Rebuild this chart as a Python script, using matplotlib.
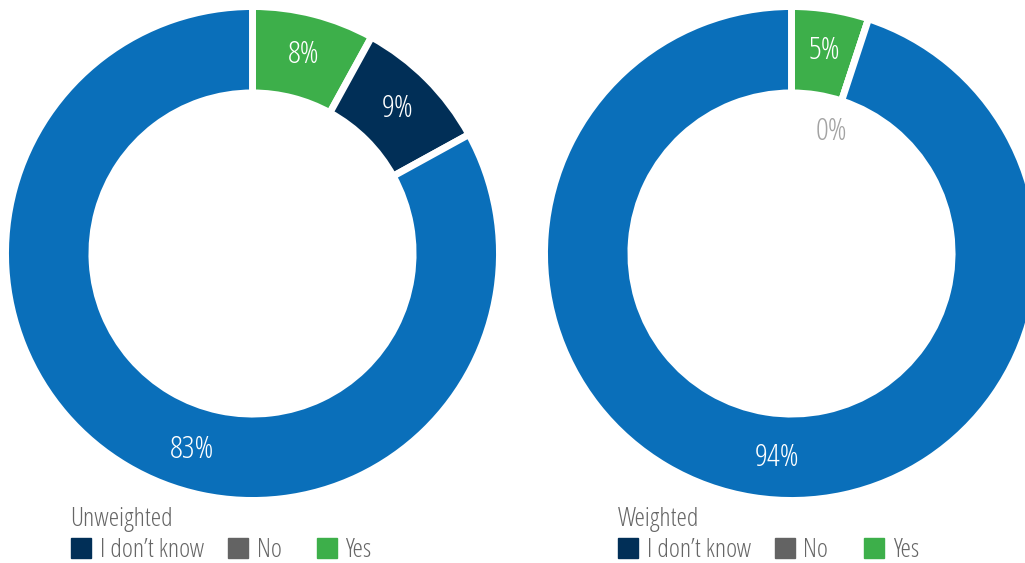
import numpy as np
import matplotlib.pyplot as plt
from matplotlib.patches import Rectangle

# data (order clockwise from 12 o'clock)
segmentos = ["Yes", "I don’t know", "No"]
no_ponderado = [8, 9, 83]
ponderado = [5, 0, 94]
titulos = ["Unweighted", "Weighted"]

legend_labels = ["I don’t know", "No", "Yes"]
legend_colors = ["#012f57", "#636363", "#3daf4a"]
colores_anillo = ["#3daf4a", "#012f57", "#0a6fba"]

FUENTE = dict(family="Open Sans", stretch="condensed", weight="light")
W, H = 1025, 563

fig = plt.figure(figsize=(W / 100, H / 100), dpi=100)

def px_axes(cx, cy, r):
    # axes box in figure fraction from pixel center/radius (y from top)
    return [(cx - r) / W, (H - cy - r) / H, 2 * r / W, 2 * r / H]

def dona(cx, valores, angulo_override=None):
    ax = fig.add_axes(px_axes(cx, 253.5, 247))
    ax.pie(valores, startangle=90, counterclock=False, colors=colores_anillo,
           radius=1, wedgeprops=dict(width=0.35, edgecolor="white", linewidth=5))
    ax.set_xlim(-1, 1)
    ax.set_ylim(-1, 1)
    total = sum(valores)
    inicio = 90
    for i, v in enumerate(valores):
        ang = inicio - v / total * 360 / 2
        inicio -= v / total * 360
        if angulo_override and i in angulo_override:
            ang = angulo_override[i]
        if v == 0:
            r, col = 0.518, "#a3a3a3"
        else:
            r, col = 0.83, "white"
        a = np.deg2rad(ang)
        ax.text(r * np.cos(a), r * np.sin(a), f"{v}%", ha="center", va="center",
                color=col, fontsize=23, **FUENTE)
    return ax

dona(252.5, no_ponderado, angulo_override={2: -107})
dona(791.5, ponderado, angulo_override={2: -94})

def leyenda(x0, titulo, xs):
    fig.text(x0 / W, (H - 526) / H, titulo, ha="left", va="baseline",
             fontsize=19, color="#666666", **FUENTE)
    for (xc, xt), lab, col in zip(xs, legend_labels, legend_colors):
        fig.patches.append(Rectangle((xc / W, (H - 558) / H), 20 / W, 20 / H,
                                     transform=fig.transFigure, color=col))
        fig.text(xt / W, (H - 557) / H, lab, ha="left", va="baseline",
                 fontsize=19, color="#666666", **FUENTE)

leyenda(70, titulos[0], [(71, 100), (228, 257), (317, 345)])
leyenda(618, titulos[1], [(618, 647), (775, 803), (864, 893)])

fig.savefig("out.png", dpi=100)
